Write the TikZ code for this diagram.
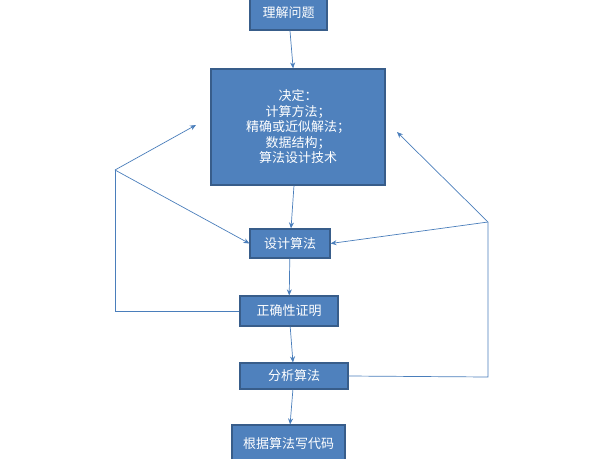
\documentclass[tikz,border=0pt]{standalone}
\usepackage{fontspec}
\newfontfamily\cjk{Noto Sans CJK SC}
\usetikzlibrary{arrows.meta}
\begin{document}
\begin{tikzpicture}[x=1pt,y=-1pt,
  box/.style={draw=blue!40!black!80!blue!60, fill=blue!45!cyan!10!black!35!white, text=white, font=\cjk\fontsize{13}{15}\selectfont, inner sep=0pt, line width=1.2pt},
  con/.style={draw=arrowc, line width=0.7pt, -{Stealth[length=6pt,width=5pt]}},
  ln/.style={draw=arrowc, line width=0.7pt}]
\definecolor{boxf}{HTML}{4F81BD}\definecolor{boxd}{HTML}{385D8A}\definecolor{arrowc}{HTML}{4A7EBB}
\tikzset{box/.append style={fill=boxf, draw=boxd}}
\useasboundingbox (0,0) rectangle (607,458);
\node[box, minimum width=77pt, minimum height=34pt] (a) at (288.5,13) {理解问题};
\node[box, minimum width=174pt, minimum height=116pt, align=center, font=\cjk\fontsize{13}{15.5}\selectfont] (b) at (298,127) {决定：\\计算方法；\\精确或近似解法；\\数据结构；\\算法设计技术};
\node[box, minimum width=80pt, minimum height=29pt] (c) at (290,243.5) {设计算法};
\node[box, minimum width=98pt, minimum height=30pt] (d) at (289,311) {正确性证明};
\node[box, minimum width=108pt, minimum height=26pt] (e) at (294,376) {分析算法};
\node[box, minimum width=113pt, minimum height=38pt] (f) at (288.5,444) {根据算法写代码};
\coordinate (L) at (115,170); \coordinate (Lb) at (115,311);
\coordinate (R) at (488,222); \coordinate (Rb) at (488,377);
\coordinate (lt) at (196,125); \coordinate (rt) at (397,132);
\draw[con] (a) -- (b);
\draw[con] (b) -- (c);
\draw[con] (c) -- (d);
\draw[con] (d) -- (e);
\draw[con] (e) -- (f);
\draw[ln] (d.west) -- (Lb) -- (L);
\draw[con] (L) -- (lt);
\draw[con] (L) -- (c.west);
\draw[ln] (e.east) -- (Rb) -- (R);
\draw[con] (R) -- (rt);
\draw[con] (R) -- (c.east);
\end{tikzpicture}
\end{document}
